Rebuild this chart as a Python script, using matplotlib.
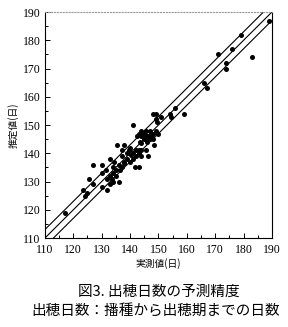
import matplotlib
matplotlib.use('Agg')
import matplotlib.pyplot as plt
from matplotlib.ticker import MultipleLocator

# 実測値 / 推定値 (日)
observed = [189, 179, 176, 171, 183, 174, 174, 166, 167, 156, 159, 154, 154.5, 151, 148, 149, 149, 149.5, 141,
            143, 144, 145, 145, 146, 147, 147, 146, 148, 149, 148, 144, 142.5, 145.5, 147, 150, 143.5,
            117, 123.5, 124, 125, 125.5, 127, 127, 130, 130, 130, 132, 133, 133, 131.5, 134, 134.5, 134, 135, 136,
            135.5, 138, 137, 138, 136.5, 139.5, 140.5, 142, 141.7, 143, 144, 145.5, 146.5, 148.5, 145.5, 147.5,
            139, 140, 141, 142, 143, 144, 138, 139, 136, 137, 135, 133.5, 134, 132, 133, 140, 141, 143, 137, 144]
estimated = [187, 182, 177, 175, 174, 172, 170, 165, 163, 156, 154, 154, 153, 153, 154, 154, 152, 151, 150,
             147, 146, 147, 145, 146, 148, 146, 144, 147, 148, 145, 148, 146, 148, 145, 147, 144,
             119, 127, 125, 126, 131, 136, 129, 136, 128, 133, 127, 138, 129, 134, 135, 137, 133, 132, 130,
             143, 143, 139, 136.5, 134, 141, 139.5, 141, 135, 135, 143.5, 141, 139, 143, 145, 146,
             138, 137, 140, 139, 141, 141, 137, 140, 136, 135, 134, 131, 130, 131, 132, 142, 138, 140, 141, 139]

ref_offsets = [0, 3, -3]
axis_range = [110, 190]

jp = ['Noto Sans CJK JP', 'DejaVu Sans']
num_font = 'Liberation Serif'

fig = plt.figure(figsize=(2.88, 3.27), dpi=100)
ax = fig.add_axes([0.156, 0.272, 0.788, 0.691])

for d in ref_offsets:
    ax.plot(axis_range, [v + d for v in axis_range], color='black', lw=0.8)
ax.scatter(observed, estimated, s=13, color='black', zorder=3, linewidths=0)

ax.set_xlim(axis_range)
ax.set_ylim(axis_range)
for a in (ax.xaxis, ax.yaxis):
    a.set_major_locator(MultipleLocator(10))
    a.set_minor_locator(MultipleLocator(5))
ax.tick_params(which='both', direction='in', top=False, right=False, width=0.7)
ax.tick_params(which='major', length=3.5, labelsize=8.5)
ax.tick_params(axis='x', which='major', pad=4)
ax.tick_params(axis='y', which='major', pad=3)
ax.tick_params(which='minor', length=2)
for lab in ax.get_xticklabels() + ax.get_yticklabels():
    lab.set_fontfamily(num_font)
for s in ax.spines.values():
    s.set_linewidth(0.8)
ax.spines['top'].set_color('#999999')
ax.spines['top'].set_linestyle(':')

ax.set_xlabel('実測値(日)', family=jp, fontsize=7, labelpad=2)
ax.set_ylabel('推定値(日)', family=jp, fontsize=7, labelpad=3)

fig.text(0.55, 0.107, '図3. 出穂日数の予測精度', family=jp, fontsize=10.5, ha='center', va='center')
fig.text(0.54, 0.047, '出穂日数：播種から出穂期までの日数', family=jp, fontsize=10.5, ha='center', va='center')

fig.savefig('out.png', dpi=100)
